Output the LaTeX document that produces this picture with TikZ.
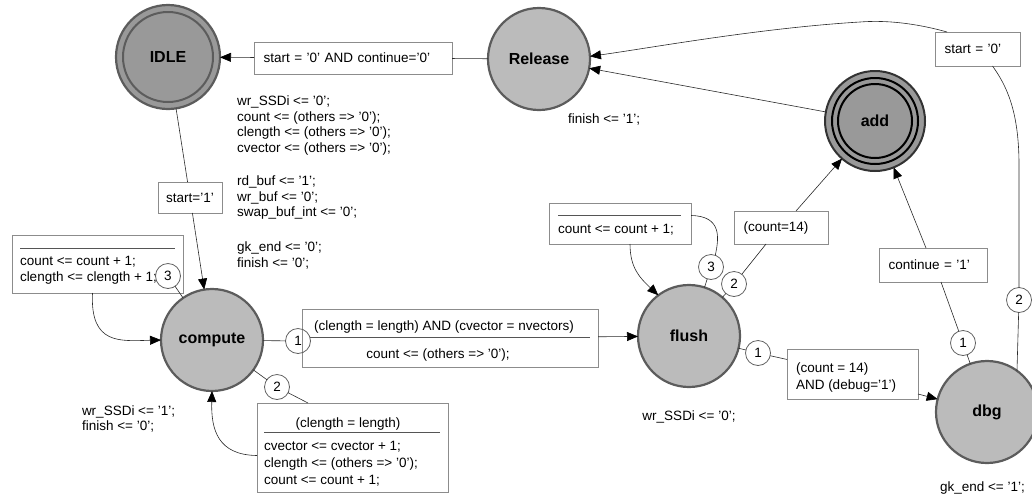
\documentclass[tikz,border=0pt]{standalone}
\usepackage{fontspec}
\setmainfont{Liberation Sans}
\usetikzlibrary{arrows.meta,calc}
\definecolor{light}{HTML}{BBBBBB}
\definecolor{dark}{HTML}{999999}
\definecolor{stroke}{HTML}{5C5C5C}
\definecolor{boxc}{HTML}{8C8C8C}
\definecolor{numc}{HTML}{606060}
\definecolor{edgec}{HTML}{2A2A2A}
\definecolor{sepc}{HTML}{555555}
\begin{document}
\begin{tikzpicture}[x=1pt,y=-1pt,
  every node/.style={font=\fontsize{13.5}{15.5}\selectfont, inner sep=0pt, outer sep=0pt},
  st/.style={circle, draw=stroke, line width=2.2pt, fill=light, minimum size=102pt, font=\fontsize{16}{18}\selectfont\bfseries},
  box/.style={draw=boxc, line width=0.8pt, fill=white, rectangle},
  lbox/.style={box, align=left, inner xsep=9.5pt},
  num/.style={circle, draw=numc, line width=0.8pt, minimum size=25pt},
  edge/.style={draw=edgec, line width=0.6pt},
  arr/.style={edge, -{Triangle[length=11pt,width=9pt,color=black]}},
  sep/.style={draw=sepc, line width=0.8pt},
  txt/.style={anchor=base west},
  ctxt/.style={anchor=base},
  blk/.style={anchor=north west, align=left},
]
\useasboundingbox (0,0) rectangle (1032,496);

% states
\node[st, fill=dark, minimum size=104pt] (idle) at (168,57) {IDLE};
\draw[draw=stroke, line width=2pt] (idle.center) circle[radius=45pt];
\node[st] (release) at (539,59) {Release};
\node[st, fill=dark, draw=black!80, line width=2pt, minimum size=100pt] (add) at (875,121) {};
\draw[black, line width=2pt] (add.center) circle[radius=43pt];
\draw[black, line width=2pt] (add.center) circle[radius=37pt];
\node[font=\fontsize{16}{18}\selectfont\bfseries] (addlbl) at (add.center) {add};
\node[st] (compute) at (212,340) {compute};
\node[st] (flush) at (689,336) {flush};
\node[st] (dbg) at (987,412) {dbg};

% boxes
\node[lbox, text width=179pt, minimum height=32pt] (lb1) at (353,58) {start = '0' AND continue='0'};
\node[box, minimum width=64pt, minimum height=31pt] (s1) at (190,197.5) {start='1'};
\node[box, minimum width=171pt, minimum height=58pt] (b3) at (97.5,264) {};
\node[box, minimum width=296pt, minimum height=58pt] (b1) at (450,338) {};
\node[box, minimum width=191pt, minimum height=89pt] (b2) at (352.5,447.5) {};
\node[box, minimum width=142pt, minimum height=41pt] (fb3) at (620,223.5) {};
\node[lbox, text width=75pt, minimum height=33pt] (cb) at (781,227.5) {(count=14)};
\node[box, minimum width=131pt, minimum height=50pt] (db) at (852.5,374) {};
\node[lbox, text width=89pt, minimum height=34pt] (cont) at (933,265) {continue = '1'};
\node[lbox, text width=66pt, minimum height=34pt] (st0) at (977.5,49) {start = '0'};

% box contents
\draw[sep] (20,248) -- (175,248);
\node[txt] (b3t1) at (20,265) {count <= count + 1;};
\node[txt] (b3t2) at (20,281) {clength <= clength + 1;};
\node[ctxt] (b1t1) at (444,330) {(clength = length) AND (cvector = nvectors)};
\draw[sep] (310,337) -- (590,337);
\node[ctxt] (b1t2) at (438,358) {count <= (others => '0');};
\node[ctxt] (b2t1) at (348,427.5) {(clength = length)};
\draw[sep] (264,432.5) -- (440,432.5);
\node[txt] (b2t2) at (264,450.5) {cvector <= cvector + 1;};
\node[txt] (b2t3) at (264,467) {clength <= (others => '0');};
\node[txt] (b2t4) at (264,484) {count <= count + 1;};
\draw[sep] (558,215) -- (681,215);
\node[txt] (fb3t) at (558,233) {count <= count + 1;};
\node[txt] (dbt1) at (796,372) {(count = 14)};
\node[txt] (dbt2) at (796,389) {AND (debug='1')};

% actions
\node[blk] (idleact) at (237,96.2) {wr\_SSDi <= '0';\\count <= (others => '0');\\clength <= (others => '0');\\cvector <= (others => '0');\\[18pt]rd\_buf <= '1';\\wr\_buf <= '0';\\swap\_buf\_int <= '0';\\[19.5pt]gk\_end <= '0';\\finish <= '0';};
\node[txt] (relact) at (568,123) {finish <= '1';};
\node[blk] (compact) at (82,405.3) {wr\_SSDi <= '1';\\finish <= '0';};
\node[ctxt] (flushact) at (689,420) {wr\_SSDi <= '0';};
\node[txt] (dbgact) at (940,491) {gk\_end <= '1';};

% numbered circles
\node[num] (c3) at (168,276) {3};
\node[num] (c1) at (298,341) {1};
\node[num] (c2) at (277,387) {2};
\node[num] (fc3) at (711,267) {3};
\node[num] (fc2) at (734,284) {2};
\node[num] (fc1) at (758,353) {1};
\node[num] (dc1) at (963,343) {1};
\node[num] (dc2) at (1019,300) {2};

% connectors
\draw[edge] (release) -- (lb1);
\draw[arr] (lb1) -- (idle);
\draw[edge] (idle) -- (s1);
\draw[arr] (s1) -- (compute);
\draw[edge] (c3) -- (compute);
\draw[arr] ($(b3.south)+(-5,0)$) .. controls (90,345) and (120,341) .. (compute.west);
\draw[edge] (compute) -- (c1);
\draw[arr] (b1) -- (flush);
\draw[edge] (compute) -- (c2);
\draw[edge] (c2) -- ($(b2.north west)+(51,0)$);
\draw[arr] ($(b2.west)+(0,8)$) .. controls (218,455) and (211,430) .. (compute.south);
\draw[edge] (fc3) -- (flush);
\draw[edge] ($(fb3.east)+(0,-8)$) .. controls (722,216) and (719,238) .. (fc3.70);
\draw[arr] ($(fb3.south)+(10,0)$) .. controls (630,268) and (640,278) .. (flush.127);
\draw[edge] (flush) -- (fc2);
\draw[edge] (fc2) -- ($(cb.south)+(-15,0)$);
\draw[arr] ($(cb.north)+(15,0)$) -- (add);
\draw[edge] (flush) -- (fc1);
\draw[edge] (fc1) -- (db);
\draw[arr] ($(db.east)+(0,20)$) -- (dbg);
\draw[edge] (dbg) -- (dc1);
\draw[edge] (dc1) -- ($(cont.south)+(8,0)$);
\draw[arr] ($(cont.north)+(-7,0)$) -- (add);
\draw[edge] (dbg.54) -- (dc2);
\draw[edge] (dc2) -- (1019,165) .. controls (1019,110) and (1006,85) .. ($(st0.south)+(15,0)$);
\draw[arr] ($(st0.north west)+(12,0)$) .. controls (915,23) and (885,20) .. (860,22) .. controls (760,28) and (650,48) .. (release.3);
\draw[arr] (add) -- (release);
\end{tikzpicture}
\end{document}
